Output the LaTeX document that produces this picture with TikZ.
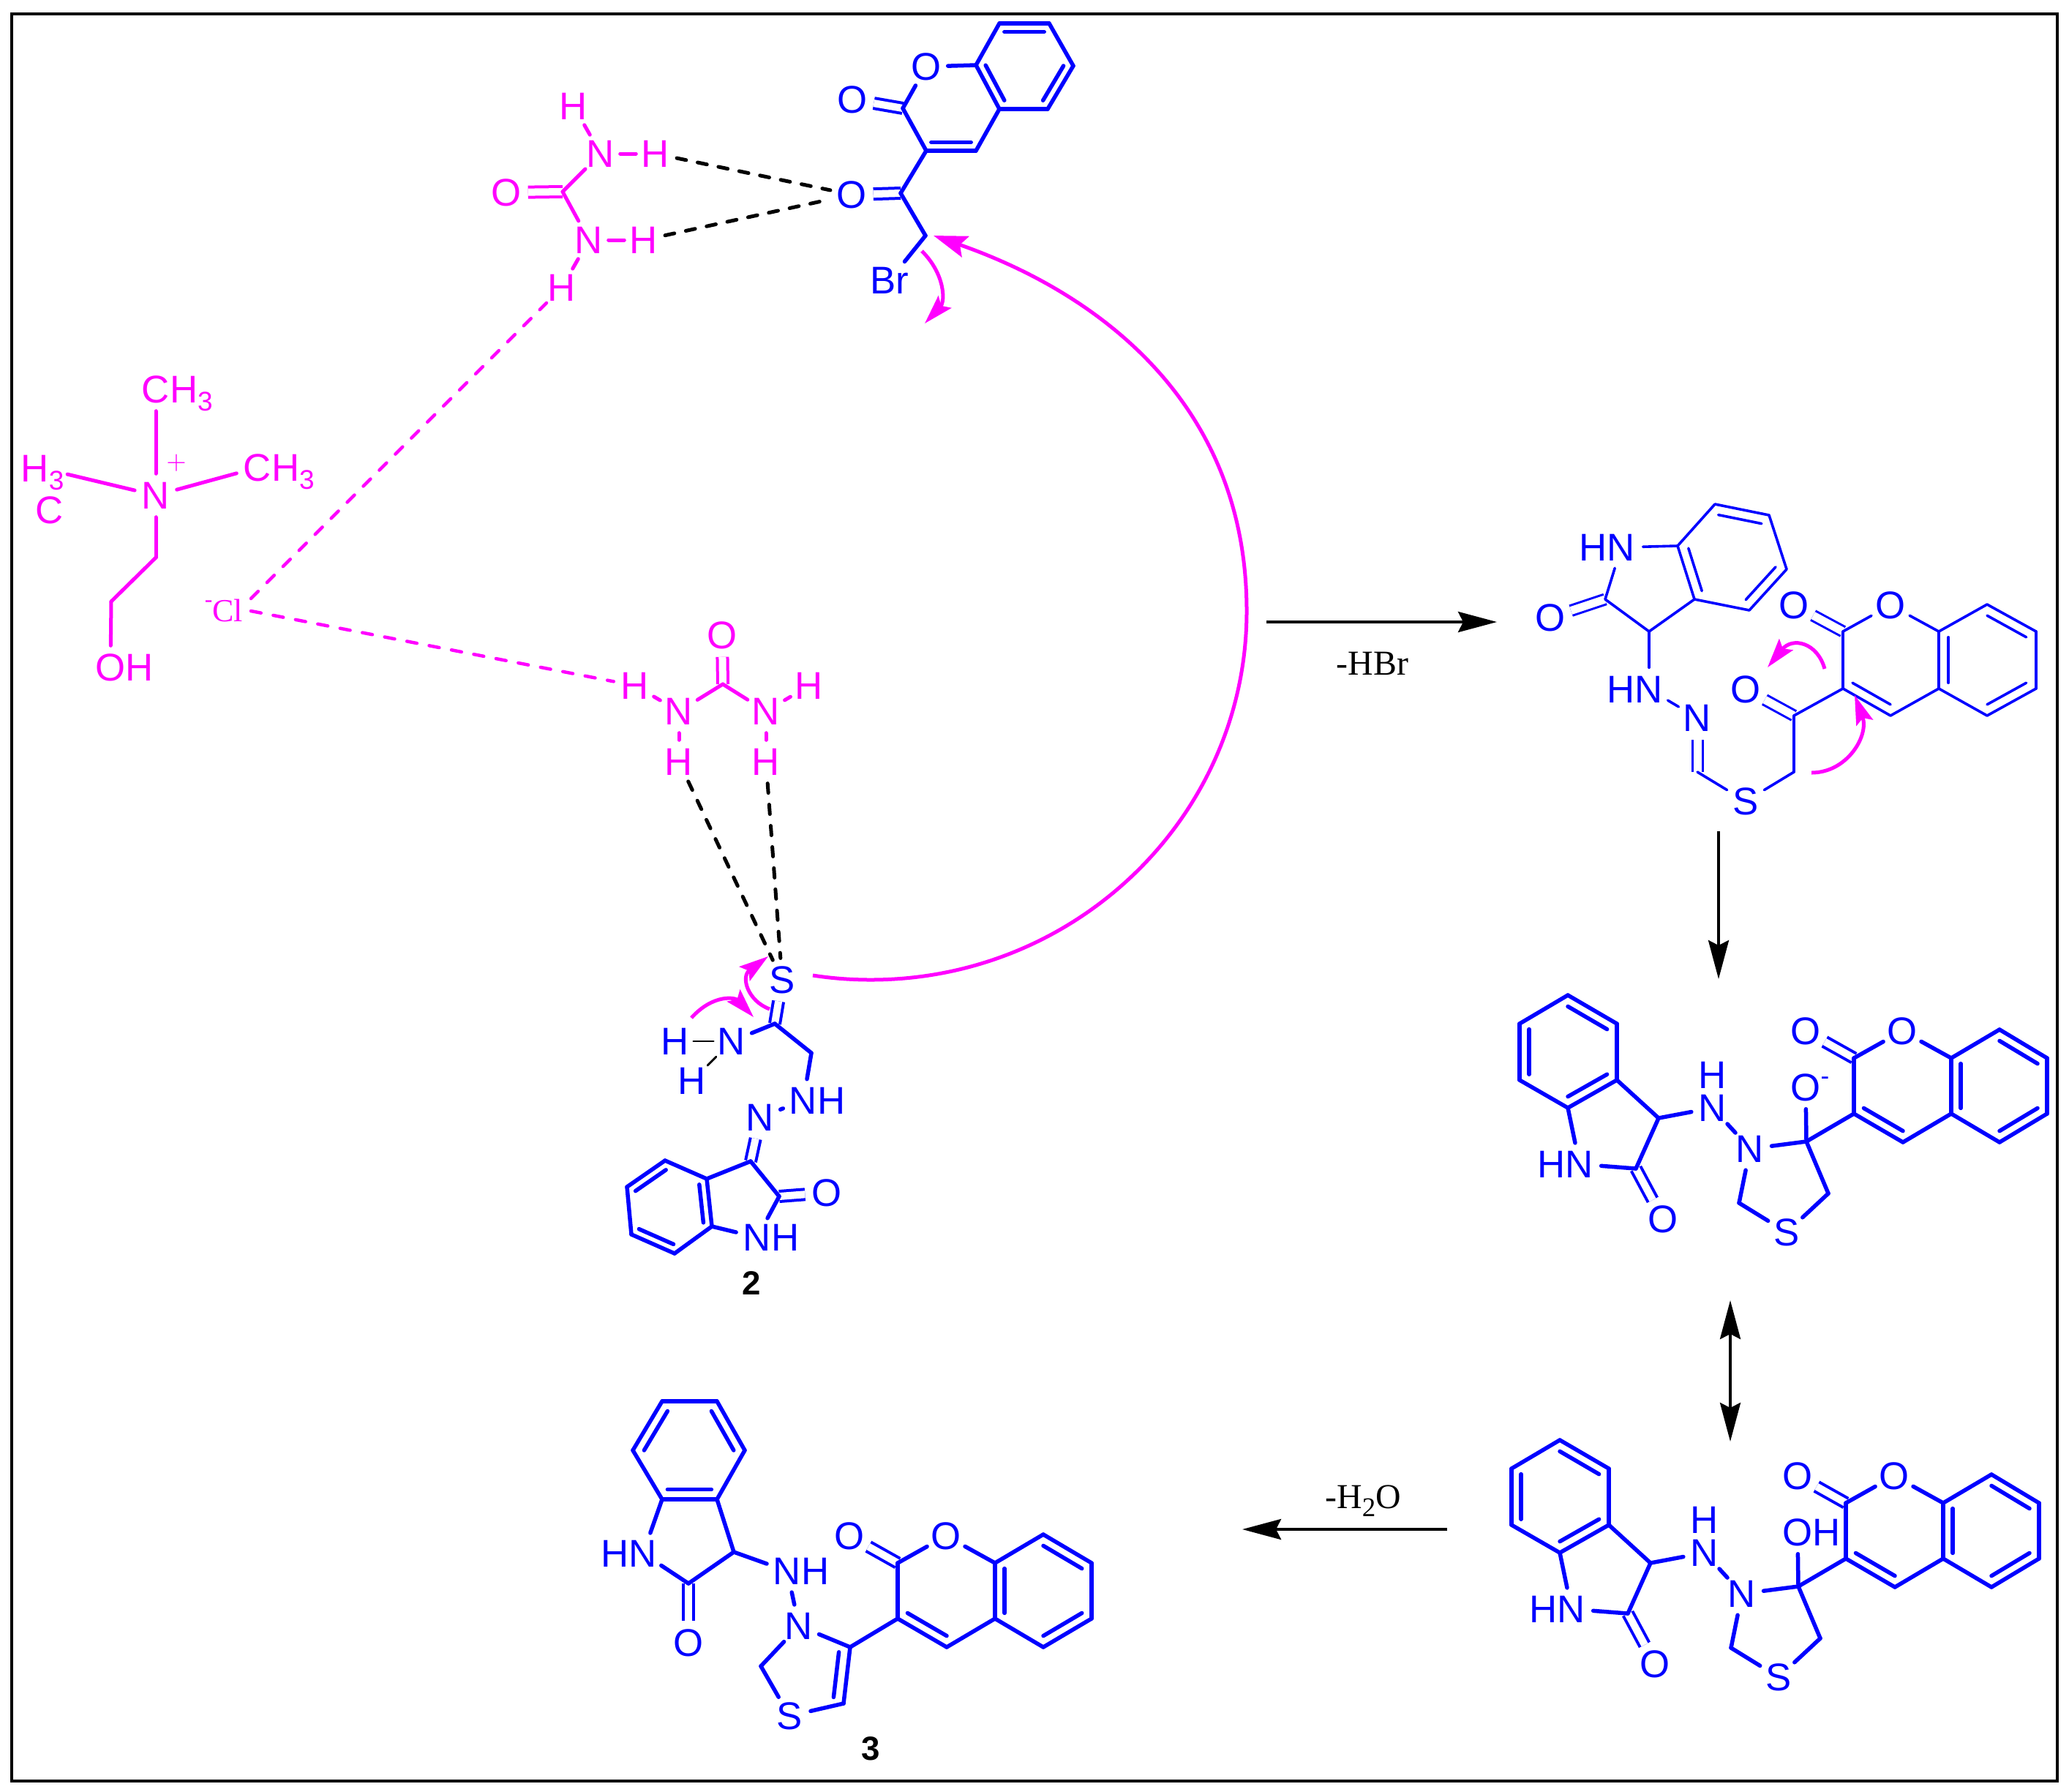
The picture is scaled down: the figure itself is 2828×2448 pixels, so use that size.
\documentclass[tikz,border=0pt]{standalone}
\usepackage{fontspec}
\setmainfont{Liberation Sans}
\newfontfamily\timesfont{Liberation Serif}
\usetikzlibrary{arrows.meta,calc}

\definecolor{molblue}{RGB}{0,0,255}
\definecolor{molpink}{RGB}{255,0,255}

\tikzset{
    atom/.style={circle, inner sep=0pt, minimum size=.58cm, font=\fontsize{15}{15}\selectfont},
    atomb/.style={atom, text=molblue},
    atomp/.style={atom, text=molpink},
    bond/.style={color=molblue, line width=.055cm, line cap=round, line join=round},
    dbond/.style={double, double distance=.1cm, line width=.04cm, line cap=butt},
    thinbond/.style={color=molblue, line width=.036cm, line cap=round, line join=round},
    tdbond/.style={double, double distance=.11cm, line width=.03cm, line cap=butt},
    pbond/.style={color=molpink, line width=.05cm, line cap=round, line join=round},
    hnbond/.style={shorten <=-.03cm, shorten >=-.03cm},
    hline/.style={color=black, line width=.028cm, line cap=round, shorten <=-.05cm, shorten >=-.05cm},
    hbond/.style={color=black, line width=.05cm, line cap=round, dash pattern=on .13cm off .16cm},
    pdash/.style={color=molpink, line width=.045cm, line cap=round, dash pattern=on .14cm off .17cm},
    hook/.style={draw=molpink, line width=.05cm, ->, >={Stealth[length=.4cm,width=.24cm,inset=.07cm]}},
    react/.style={color=black, line width=.04cm},
    note/.style={inner sep=0pt, font=\timesfont\fontsize{13.6}{13.6}\selectfont},
    cpdno/.style={inner sep=0pt, font=\bfseries\fontsize{13}{13}\selectfont}
}

\newcommand{\chemsub}[1]{\smash{\raisebox{-.22em}{\fontsize{10.5}{10.5}\selectfont #1}}}
\newcommand{\innerbond}[4][bond]{\path [#1] ($(#2)!.2!(#4)$) edge ($(#3)!.2!(#4)$);}

% hydroxy / oxide adduct, drawn twice
\newcommand{\adduct}[3]{%
\begin{scope}[shift={(#2)}]
    \coordinate (#1v1) at (2143,1360); \coordinate (#1v2) at (2210,1399);
    \coordinate (#1v3) at (2210,1476); \coordinate (#1v4) at (2143,1514);
    \coordinate (#1v5) at (2077,1476); \coordinate (#1v6) at (2077,1399);
    \coordinate (#1v7) at (2267,1528); \coordinate (#1v8) at (2236,1597);
    \coordinate (#1v9) at (2469,1560); \coordinate (#1v10) at (2499,1631);
    \coordinate (#1v11) at (2377,1644); \coordinate (#1v12) at (2534,1522);
    \coordinate (#1v13) at (2534,1446); \coordinate (#1v14) at (2667,1446);
    \coordinate (#1v15) at (2733,1407); \coordinate (#1v16) at (2798,1446);
    \coordinate (#1v17) at (2798,1522); \coordinate (#1v18) at (2733,1561);
    \coordinate (#1v19) at (2667,1522); \coordinate (#1v20) at (2601,1561);
    \coordinate (#1bz) at (2143,1437); \coordinate (#1py) at (2601,1484);
    \coordinate (#1bc) at (2733,1484);
    \node [atomb] (#1N1) at (2159,1591) {\llap{H}N};
    \node [atomb] (#1O1) at (2273,1666) {O};
    \node [atomb] (#1N2) at (2341,1514) {N};
    \node [atomb] (#1H)  at (2341,1469) {H};
    \node [atomb] (#1N3) at (2392,1570) {N};
    \node [atomb] (#1S)  at (2442,1684) {S};
    \node [atomb] (#1O2) at (2468,1486) {#3};
    \node [atomb] (#1O3) at (2468,1409) {O};
    \node [atomb] (#1O4) at (2600,1409) {O};

    \path [bond] (#1v8) edge [dbond] (#1O1);
    \path [bond] (#1v13) edge [dbond] (#1O3);
    \path [bond] (#1v1) edge (#1v2) (#1v2) edge (#1v3) (#1v3) edge (#1v4)
                 (#1v4) edge (#1v5) (#1v5) edge (#1v6) (#1v6) edge (#1v1);
    \path [bond] (#1v3) edge (#1v7) (#1v7) edge (#1v8) (#1v8) edge (#1N1) (#1N1) edge (#1v4);
    \path [bond] (#1v7) edge (#1N2) (#1N2) edge (#1N3) (#1N3) edge (#1v9) (#1N3) edge (#1v11);
    \path [bond] (#1v11) edge (#1S) (#1S) edge (#1v10) (#1v10) edge (#1v9) (#1v9) edge (#1O2);
    \path [bond] (#1v9) edge (#1v12) (#1v12) edge (#1v13) (#1v13) edge (#1O4) (#1O4) edge (#1v14);
    \path [bond] (#1v14) edge (#1v19) (#1v19) edge (#1v20) (#1v20) edge (#1v12);
    \path [bond] (#1v14) edge (#1v15) (#1v15) edge (#1v16) (#1v16) edge (#1v17)
                 (#1v17) edge (#1v18) (#1v18) edge (#1v19);
    \innerbond{#1v1}{#1v2}{#1bz} \innerbond{#1v3}{#1v4}{#1bz} \innerbond{#1v5}{#1v6}{#1bz}
    \innerbond{#1v12}{#1v20}{#1py} \innerbond{#1v14}{#1v19}{#1bc}
    \innerbond{#1v15}{#1v16}{#1bc} \innerbond{#1v17}{#1v18}{#1bc}
\end{scope}}

\begin{document}
\begin{tikzpicture}[x=.01cm, y=-.01cm, >={Stealth[length=.53cm,width=.28cm,inset=.07cm]}]
    \useasboundingbox (0,0) rectangle (2828,2448);
    \draw [line width=.04cm] (16,19) rectangle (2812,2434);

    % Nodes {bromoacetyl coumarin}
    \coordinate (a1) at (1366,32);   \coordinate (a2) at (1434,32);
    \coordinate (a3) at (1467,90);   \coordinate (a4) at (1432,149);
    \coordinate (a5) at (1366,149);  \coordinate (a6) at (1334,89);
    \coordinate (a7) at (1234,148);  \coordinate (a8) at (1266,206);
    \coordinate (a9) at (1334,206);  \coordinate (a10) at (1231,264);
    \coordinate (a11) at (1265,322);
    \coordinate (abz) at (1400,90);  \coordinate (apy) at (1300,148);
    \node [atomb] (aO1) at (1266,91)  {O};
    \node [atomb] (aO2) at (1165,136) {O};
    \node [atomb] (aO3) at (1164,266) {O};
    \node [atomb] (aBr) at (1216,383) {Br};

    % Paths
    \path [bond] (a7) edge [dbond] (aO2);
    \path [bond] (a10) edge [dbond] (aO3);
    \path [bond] (a1) edge (a2) (a2) edge (a3) (a3) edge (a4) (a4) edge (a5) (a5) edge (a6) (a6) edge (a1);
    \path [bond] (a6) edge (aO1) (aO1) edge (a7) (a7) edge (a8) (a8) edge (a9) (a9) edge (a5);
    \path [bond] (a8) edge (a10) (a10) edge (a11) (a11) edge (aBr);
    \innerbond{a1}{a2}{abz} \innerbond{a3}{a4}{abz} \innerbond{a5}{a6}{abz} \innerbond{a8}{a9}{apy}

    % Nodes {upper urea}
    \coordinate (u1) at (769,262);
    \node [atomp] (uO)  at (692,263) {O};
    \node [atomp] (uN1) at (821,210) {N};
    \node [atomp] (uH1) at (896,210) {H};
    \node [atomp] (uH2) at (784,145) {H};
    \node [atomp] (uN2) at (805,328) {N};
    \node [atomp] (uH3) at (880,328) {H};
    \node [atomp] (uH4) at (768,393) {H};

    % Paths
    \path [pbond] (u1) edge [dbond] (uO);
    \path [pbond] (u1) edge (uN1) (u1) edge (uN2) (uN1) edge (uH2) (uN2) edge (uH4);
    \path [pbond, hnbond] (uN1) edge (uH1) (uN2) edge (uH3);
    \path [hbond] (uH1) edge (aO3) (uH3) edge (aO3);

    % Nodes {choline chloride}
    \coordinate (m1) at (213,762);
    \coordinate (m2) at (152,822);
    \coordinate (cla) at (343,818);
    \coordinate (clb) at (343,835);
    \node [atomp] (mN)  at (213,677) {N};
    \node [atomp] (mC1) at (213,532) {C\rlap{H\chemsub{3}}};
    \node [atomp] (mC2) at (352,639) {C\rlap{H\chemsub{3}}};
    \node [atomp] (mH)  at (58,640)  {H\chemsub{3}};
    \node [atomp] (mC3) at (68,697)  {C};
    \node [atomp] (mO)  at (151,912) {O\rlap{H}};
    \node [text=molpink, inner sep=0pt] (mplus) at (241,633) {$+$};
    \node [text=molpink, inner sep=0pt, font=\timesfont\fontsize{12.5}{12.5}\selectfont] (mCl) at (306,834) {\raisebox{.45em}{\fontsize{9}{9}\selectfont -}Cl};

    % Paths
    \path [pbond] (mN) edge (mC1) (mN) edge (mC2) (mN) edge (mH) (mN) edge (m1) (m1) edge (m2) (m2) edge (mO);

    % Nodes {lower urea}
    \coordinate (v1) at (988,935);
    \node [atomp] (vO)  at (987,868)  {O};
    \node [atomp] (vN1) at (928,972)  {N};
    \node [atomp] (vH1) at (868,937)  {H};
    \node [atomp] (vH2) at (928,1041) {H};
    \node [atomp] (vN2) at (1047,972) {N};
    \node [atomp] (vH3) at (1106,937) {H};
    \node [atomp] (vH4) at (1047,1041) {H};

    % Paths
    \path [pbond] (v1) edge [dbond] (vO);
    \path [pbond] (v1) edge (vN1) (v1) edge (vN2) (vN1) edge (vH1) (vN1) edge (vH2) (vN2) edge (vH3) (vN2) edge (vH4);
    \path [pdash] (cla) edge (uH4) (clb) edge (vH1);

    % Nodes {thiosemicarbazone 2}
    \coordinate (b1) at (1059,1399);  \coordinate (b2) at (1109,1439);
    \coordinate (b3) at (1026,1587);  \coordinate (b4) at (1065,1635);
    \coordinate (b5) at (973,1676);   \coordinate (b6) at (966,1611);
    \coordinate (b7) at (909,1586);   \coordinate (b8) at (857,1622);
    \coordinate (b9) at (863,1687);   \coordinate (b10) at (922,1713);
    \coordinate (bbz) at (915,1650);
    \node [atomb] (bS)  at (1069,1339) {S};
    \node [atomb] (bN1) at (1000,1423) {N};
    \node [atomb] (bH1) at (923,1423)  {H};
    \node [atomb] (bH2) at (946,1477)  {H};
    \node [atomb] (bN2) at (1098,1504) {N\rlap{H}};
    \node [atomb] (bN3) at (1039,1527) {N};
    \node [atomb] (bO)  at (1130,1630) {O};
    \node [atomb] (bN4) at (1035,1691) {N\rlap{H}};
    \node [cpdno] (bno) at (1027,1754) {2};

    % Paths
    \path [bond] (b1) edge [dbond] (bS);
    \path [bond] (b3) edge [dbond] (bN3);
    \path [bond] (b4) edge [dbond] (bO);
    \path [bond] (b1) edge (bN1) (b1) edge (b2) (b2) edge (bN2) (bN2) edge (bN3);
    \path [bond] (b3) edge (b4) (b4) edge (bN4) (bN4) edge (b5) (b5) edge (b6) (b6) edge (b3);
    \path [bond] (b6) edge (b7) (b7) edge (b8) (b8) edge (b9) (b9) edge (b10) (b10) edge (b5);
    \innerbond{b5}{b6}{bbz} \innerbond{b7}{b8}{bbz} \innerbond{b9}{b10}{bbz}
    \path [hline] (bN1) edge (bH1);
    \path [color=black, line width=.028cm, line cap=round] (bN1) edge (bH2);
    \path [hbond] (vH2) edge (bS) (vH4) edge (bS);

    % Nodes {open chain intermediate}
    \coordinate (c1) at (2344,689);   \coordinate (c2) at (2418,704);
    \coordinate (c3) at (2442,778);   \coordinate (c4) at (2391,834);
    \coordinate (c5) at (2316,819);   \coordinate (c6) at (2293,746);
    \coordinate (c7) at (2194,819);   \coordinate (c8) at (2254,863);
    \coordinate (c9) at (2320,1055);  \coordinate (c10) at (2452,1055);
    \coordinate (c11) at (2452,978);  \coordinate (c12) at (2519,941);
    \coordinate (c13) at (2519,863);  \coordinate (c14) at (2650,863);
    \coordinate (c15) at (2716,826);  \coordinate (c16) at (2783,863);
    \coordinate (c17) at (2783,941);  \coordinate (c18) at (2716,978);
    \coordinate (c19) at (2650,941);  \coordinate (c20) at (2584,978);
    \coordinate (cbz) at (2367,762);  \coordinate (cpy) at (2584,902);
    \coordinate (cbc) at (2716,902);
    \node [atomb] (cN1) at (2216,748) {\llap{H}N};
    \node [atomb] (cO1) at (2119,844) {O};
    \node [atomb] (cN2) at (2254,942) {\llap{H}N};
    \node [atomb] (cN3) at (2320,981) {N};
    \node [atomb] (cS)  at (2386,1095) {S};
    \node [atomb] (cO2) at (2386,942) {O};
    \node [atomb] (cO3) at (2452,827) {O};
    \node [atomb] (cO4) at (2584,827) {O};

    % Paths
    \path [thinbond] (c7) edge [tdbond] (cO1);
    \path [thinbond] (c9) edge [tdbond] (cN3);
    \path [thinbond] (c11) edge [tdbond] (cO2);
    \path [thinbond] (c13) edge [tdbond] (cO3);
    \path [thinbond] (c1) edge (c2) (c2) edge (c3) (c3) edge (c4) (c4) edge (c5) (c5) edge (c6) (c6) edge (c1);
    \path [thinbond] (c6) edge (cN1) (cN1) edge (c7) (c7) edge (c8) (c8) edge (c5) (c8) edge (cN2) (cN2) edge (cN3);
    \path [thinbond] (c9) edge (cS) (cS) edge (c10) (c10) edge (c11) (c11) edge (c12);
    \path [thinbond] (c12) edge (c13) (c13) edge (cO4) (cO4) edge (c14) (c14) edge (c19) (c19) edge (c20) (c20) edge (c12);
    \path [thinbond] (c14) edge (c15) (c15) edge (c16) (c16) edge (c17) (c17) edge (c18) (c18) edge (c19);
    \innerbond[thinbond]{c1}{c2}{cbz} \innerbond[thinbond]{c3}{c4}{cbz} \innerbond[thinbond]{c5}{c6}{cbz}
    \innerbond[thinbond]{c12}{c20}{cpy} \innerbond[thinbond]{c14}{c19}{cbc}
    \innerbond[thinbond]{c15}{c16}{cbc} \innerbond[thinbond]{c17}{c18}{cbc}

    % Adducts
    \adduct{d}{0,0}{O\rlap{\raisebox{.42em}{\fontsize{10}{10}\selectfont -}}}
    \adduct{e}{-11,608}{O\rlap{H}}

    % Nodes {product 3}
    \coordinate (f1) at (905,1915);   \coordinate (f2) at (980,1915);
    \coordinate (f3) at (1018,1982);  \coordinate (f4) at (980,2049);
    \coordinate (f5) at (905,2049);   \coordinate (f6) at (865,1982);
    \coordinate (f7) at (1003,2121);  \coordinate (f8) at (941,2164);
    \coordinate (f9) at (1162,2251);  \coordinate (f10) at (1153,2328);
    \coordinate (f11) at (1040,2277); \coordinate (f12) at (1227,2212);
    \coordinate (f13) at (1227,2136); \coordinate (f14) at (1360,2136);
    \coordinate (f15) at (1426,2097); \coordinate (f16) at (1492,2136);
    \coordinate (f17) at (1492,2212); \coordinate (f18) at (1426,2251);
    \coordinate (f19) at (1360,2212); \coordinate (f20) at (1294,2251);
    \coordinate (fbz) at (942,1982);  \coordinate (fpy) at (1294,2174);
    \coordinate (fbc) at (1426,2174); \coordinate (fth) at (1085,2285);
    \node [atomb] (fN1) at (879,2123)  {\llap{H}N};
    \node [atomb] (fO1) at (941,2245)  {O};
    \node [atomb] (fN2) at (1076,2147) {N\rlap{H}};
    \node [atomb] (fN3) at (1092,2222) {N};
    \node [atomb] (fS)  at (1079,2345) {S};
    \node [atomb] (fO2) at (1161,2099) {O};
    \node [atomb] (fO3) at (1293,2099) {O};
    \node [cpdno] (fno) at (1190,2390) {3};

    % Paths
    \path [bond] (f8) edge [dbond] (fO1);
    \path [bond] (f13) edge [dbond] (fO2);
    \path [bond] (f1) edge (f2) (f2) edge (f3) (f3) edge (f4) (f4) edge (f5) (f5) edge (f6) (f6) edge (f1);
    \path [bond] (f5) edge (fN1) (fN1) edge (f8) (f8) edge (f7) (f7) edge (f4) (f7) edge (fN2) (fN2) edge (fN3);
    \path [bond] (fN3) edge (f9) (f9) edge (f10) (f10) edge (fS) (fS) edge (f11) (f11) edge (fN3);
    \path [bond] (f9) edge (f12) (f12) edge (f13) (f13) edge (fO3) (fO3) edge (f14) (f14) edge (f19) (f19) edge (f20) (f20) edge (f12);
    \path [bond] (f14) edge (f15) (f15) edge (f16) (f16) edge (f17) (f17) edge (f18) (f18) edge (f19);
    \innerbond{f1}{f6}{fbz} \innerbond{f2}{f3}{fbz} \innerbond{f4}{f5}{fbz}
    \innerbond{f9}{f10}{fth} \innerbond{f12}{f20}{fpy}
    \innerbond{f14}{f19}{fbc} \innerbond{f15}{f16}{fbc} \innerbond{f17}{f18}{fbc}

    % Reaction arrows
    \coordinate (r1a) at (1731,850);  \coordinate (r1b) at (2046,850);
    \coordinate (r2a) at (2349,1136); \coordinate (r2b) at (2349,1338);
    \coordinate (r3a) at (2365,1777); \coordinate (r3b) at (2365,1970);
    \coordinate (r4a) at (1978,2090); \coordinate (r4b) at (1698,2090);
    \path [react, ->]  (r1a) edge node [note, below=.39cm, pos=.46] (nhbr) {-HBr} (r1b);
    \path [react, ->]  (r2a) edge (r2b);
    \path [react, <->] (r3a) edge (r3b);
    \path [react, ->]  (r4a) edge node [note, above=.26cm, pos=.41] (nwat) {-H\chemsub{2}O} (r4b);

    % Electron arrows
    \coordinate (k1a) at (1111,1333); \coordinate (k1b) at (1190,1339);
    \coordinate (k1c) at (1704,835);  \coordinate (k1d) at (1276,322);
    \coordinate (k2a) at (1260,343);  \coordinate (k2b) at (1264,442);
    \coordinate (k3a) at (945,1391);  \coordinate (k3b) at (1030,1390);
    \coordinate (k4a) at (1052,1379); \coordinate (k4b) at (1050,1307);
    \coordinate (k5a) at (2494,914);  \coordinate (k5b) at (2416,912);
    \coordinate (k6a) at (2476,1056); \coordinate (k6b) at (2535,950);
    \draw [hook, >={Stealth[length=.46cm,width=.3cm,inset=.08cm]}] (k1a) .. controls (1137,1337) and (1163,1339) .. (k1b) .. controls (1474,1339) and (1704,1113) .. (k1c) .. controls (1704,550) and (1500,400) .. (k1d);
    \draw [hook] (k2a) .. controls (1292,375) and (1292,412) .. (k2b);
    \draw [hook] (k3a) .. controls (975,1358) and (1005,1363) .. (k3b);
    \draw [hook] (k4a) .. controls (1022,1368) and (1012,1335) .. (k4b);
    \draw [hook] (k5a) .. controls (2484,878) and (2450,870) .. (k5b);
    \draw [hook] (k6a) .. controls (2525,1056) and (2555,1005) .. (k6b);
\end{tikzpicture}
\end{document}
